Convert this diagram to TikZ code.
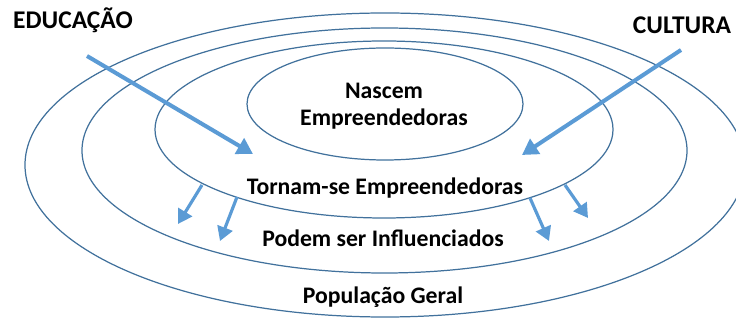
\documentclass[tikz,border=0pt]{standalone}
\usepackage{fontspec}
\setmainfont{Carlito}
\usetikzlibrary{arrows.meta}
\definecolor{ringblue}{RGB}{65,113,156}
\definecolor{arrowblue}{RGB}{91,155,213}
\tikzset{
  ring/.style={draw=ringblue, line width=0.7pt},
  bigpush/.style={draw=arrowblue, line width=2.3pt, -{Triangle[length=9pt,width=10pt]}},
  smallpush/.style={draw=arrowblue, line width=1.8pt, -{Triangle[length=8pt,width=9pt]}},
  lbl/.style={font=\bfseries\fontsize{13.5}{15.5}\selectfont, align=center},
  ttl/.style={font=\bfseries\fontsize{14.5}{16}\selectfont}
}
\begin{document}
\begin{tikzpicture}[scale=0.2]
\tikzstyle{every node}+=[inner sep=0pt]
\useasboundingbox (0,0) rectangle (73.6,-32);
\clip (0,0) rectangle (73.6,-32);
% rings
\draw [ring] (38.5,-16.5) ellipse (36 and 15.2);
\draw [ring] (38.45,-15.05) ellipse (30.25 and 12.25);
\draw [ring] (38.4,-12.95) ellipse (22.9 and 8.85);
\draw [ring] (38.5,-10.4) ellipse (13.8 and 5.6);
% labels
\node [lbl] (nascem) at (38.4,-10.65) {Nascem\\Empreendedoras};
\node [lbl] (tornam) at (38.5,-18.8) {Tornam-se Empreendedoras};
\node [lbl] (podem) at (38.3,-23.8) {Podem ser Influenciados};
\node [lbl] (geral) at (38.3,-29.7) {População Geral};
\node [ttl] (edu) at (7.3,-2.0) {EDUCAÇÃO};
\node [ttl] (cult) at (68.2,-2.5) {CULTURA};
% influences
\coordinate (eduS) at (8.7,-5.6);
\coordinate (eduT) at (25.3,-15.4);
\coordinate (cultS) at (68.1,-5.0);
\coordinate (cultT) at (52.2,-15.5);
\draw [bigpush] (eduS) -- (eduT);
\draw [bigpush] (cultS) -- (cultT);
% spill over
\coordinate (s1) at (20.2,-18.5);
\coordinate (t1) at (17.8,-22.4);
\coordinate (s2) at (23.7,-19.7);
\coordinate (t2) at (22.0,-24.1);
\coordinate (s3) at (53.0,-19.8);
\coordinate (t3) at (54.9,-24.1);
\coordinate (s4) at (56.5,-18.5);
\coordinate (t4) at (58.8,-21.8);
\foreach \a/\b in {s1/t1,s2/t2,s3/t3,s4/t4}
  \draw [smallpush] (\a) -- (\b);
\end{tikzpicture}
\end{document}
